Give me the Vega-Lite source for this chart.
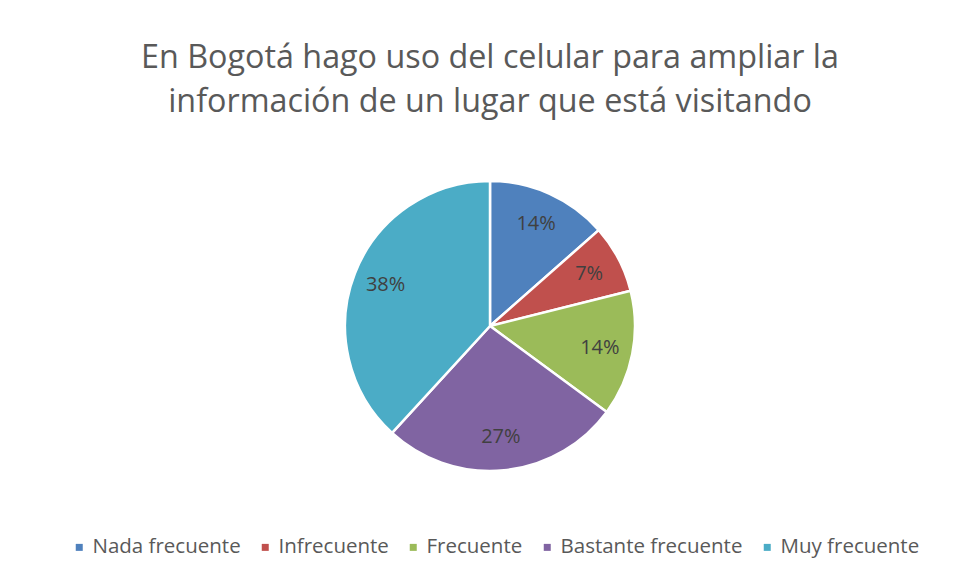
{
  "$schema": "https://vega.github.io/schema/vega-lite/v6.json",
  "autosize": "none",
  "width": 700,
  "height": 330,
  "padding": {"left": 140, "top": 161, "right": 116, "bottom": 88},
  "background": "white",
  "title": {
    "text": ["En Bogotá hago uso del celular para ampliar la", "información de un lugar que está visitando"],
    "font": "Open Sans",
    "fontSize": 32.3,
    "fontWeight": "normal",
    "color": "#595959",
    "lineHeight": 44,
    "anchor": "middle",
    "offset": 43
  },
  "data": {
    "values": [
      {"categoria": "Nada frecuente", "valor": 13.5, "etiqueta": "14%", "orden": 1},
      {"categoria": "Infrecuente", "valor": 7.6, "etiqueta": "7%", "orden": 2},
      {"categoria": "Frecuente", "valor": 14.0, "etiqueta": "14%", "orden": 3},
      {"categoria": "Bastante frecuente", "valor": 26.7, "etiqueta": "27%", "orden": 4},
      {"categoria": "Muy frecuente", "valor": 38.2, "etiqueta": "38%", "orden": 5}
    ]
  },
  "encoding": {
    "theta": {"field": "valor", "type": "quantitative", "stack": true},
    "order": {"field": "orden", "type": "quantitative"},
    "color": {
      "field": "categoria",
      "type": "nominal",
      "sort": ["Nada frecuente", "Infrecuente", "Frecuente", "Bastante frecuente", "Muy frecuente"],
      "scale": {
        "domain": ["Nada frecuente", "Infrecuente", "Frecuente", "Bastante frecuente", "Muy frecuente"],
        "range": ["#4F81BD", "#C0504D", "#9BBB59", "#8064A2", "#4BACC6"]
      },
      "legend": {
        "title": null,
        "orient": "none",
        "direction": "horizontal",
        "columns": 5,
        "legendX": -71,
        "legendY": 376,
        "symbolType": "square",
        "symbolSize": 49,
        "symbolStrokeWidth": 0,
        "labelFont": "Open Sans",
        "labelFontSize": 20.5,
        "labelColor": "#595959",
        "labelOffset": 3,
        "columnPadding": 14,
        "labelLimit": 300
      }
    }
  },
  "layer": [
    {
      "mark": {"type": "arc", "outerRadius": 145, "stroke": "white", "strokeWidth": 2.5}
    },
    {
      "mark": {"type": "text", "radius": 112, "font": "Open Sans", "fontSize": 20},
      "encoding": {
        "text": {"field": "etiqueta", "type": "nominal"},
        "color": {"value": "#404040"}
      }
    }
  ],
  "config": {"view": {"stroke": null}}
}
